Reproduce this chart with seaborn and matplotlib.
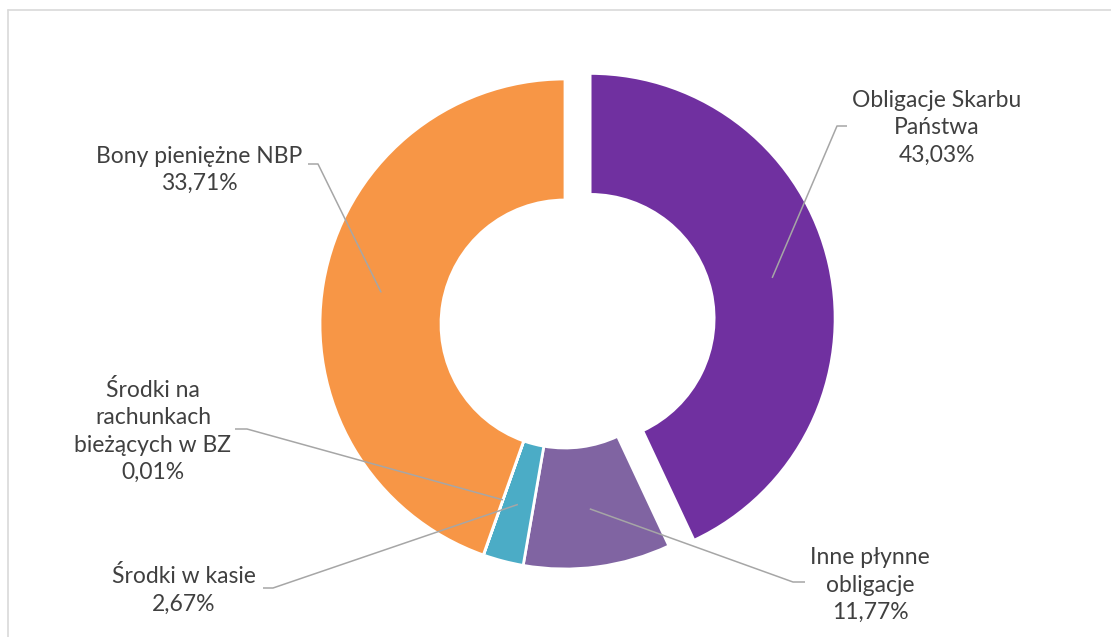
import numpy as np
import matplotlib
matplotlib.use("Agg")
import matplotlib.pyplot as plt
import seaborn as sns

# ---- data ----
categories = ["Obligacje Skarbu\nPaństwa", "Inne płynne\nobligacje", "Środki w kasie",
              "Środki na\nrachunkach\nbieżących w BZ", "Bony pieniężne NBP"]
pct_labels = ["43,03%", "11,77%", "2,67%", "0,01%", "33,71%"]
shares = [43.03, 9.7, 2.67, 0.01, 44.59]          # slice sizes as drawn
colors = ["#7030A0", "#8064A2", "#4BACC6", "#9BBB59", "#F79646"]

sns.set_theme(style="white")
plt.rcParams['font.family'] = ['Lato', 'DejaVu Sans']

W, H = 1111, 637
fig = plt.figure(figsize=(W / 100, H / 100), dpi=100)
ax = fig.add_axes([0, 0, 1, 1])

cx, cy = 565, H - 324
R = 245
ring = 121
explode = [0.105 * R, 0, 0, 0, 0]

wedges, _ = ax.pie(shares, colors=colors, startangle=90, counterclock=False,
                   explode=explode, center=(cx, cy), radius=R,
                   wedgeprops=dict(width=ring, edgecolor="white", linewidth=2))
ax.set_xlim(0, W)
ax.set_ylim(0, H)
ax.set_aspect("equal")
ax.axis("off")

# label layout (image pixel coords): text centre, elbow, elbow end
label_pos = [(937, 128), (870, 585), (184, 590), (153, 431), (199, 170)]
elbows = [((837, 126), (847, 126)), ((793, 582), (805, 582)), ((273, 588), (263, 588)),
          ((247, 429), (235, 429)), ((318, 164), (308, 164))]

txtc = "#404040"
linec = "#A6A6A6"
for w, cat, pct, (tx, ty), ((ex, ey), (hx, hy)) in zip(wedges, categories, pct_labels, label_pos, elbows):
    th = np.deg2rad((w.theta1 + w.theta2) / 2)
    wcx, wcy = w.center
    rr = R - ring / 2 + 2
    axp, ayp = wcx + rr * np.cos(th), wcy + rr * np.sin(th)
    ax.plot([axp, ex, hx], [ayp, H - ey, H - hy], color=linec, lw=1.1, solid_capstyle="butt", zorder=3)
    ax.text(tx, H - ty, cat + "\n" + pct, ha="center", va="center", fontsize=16.5,
            color=txtc, linespacing=1.36, zorder=4)

# chart frame (top and left edges visible)
ax.plot([8, 8], [0, H - 10], color="#D9D9D9", lw=1.2)
ax.plot([8, W], [H - 10, H - 10], color="#D9D9D9", lw=1.2)

fig.savefig("out.png", dpi=100)
